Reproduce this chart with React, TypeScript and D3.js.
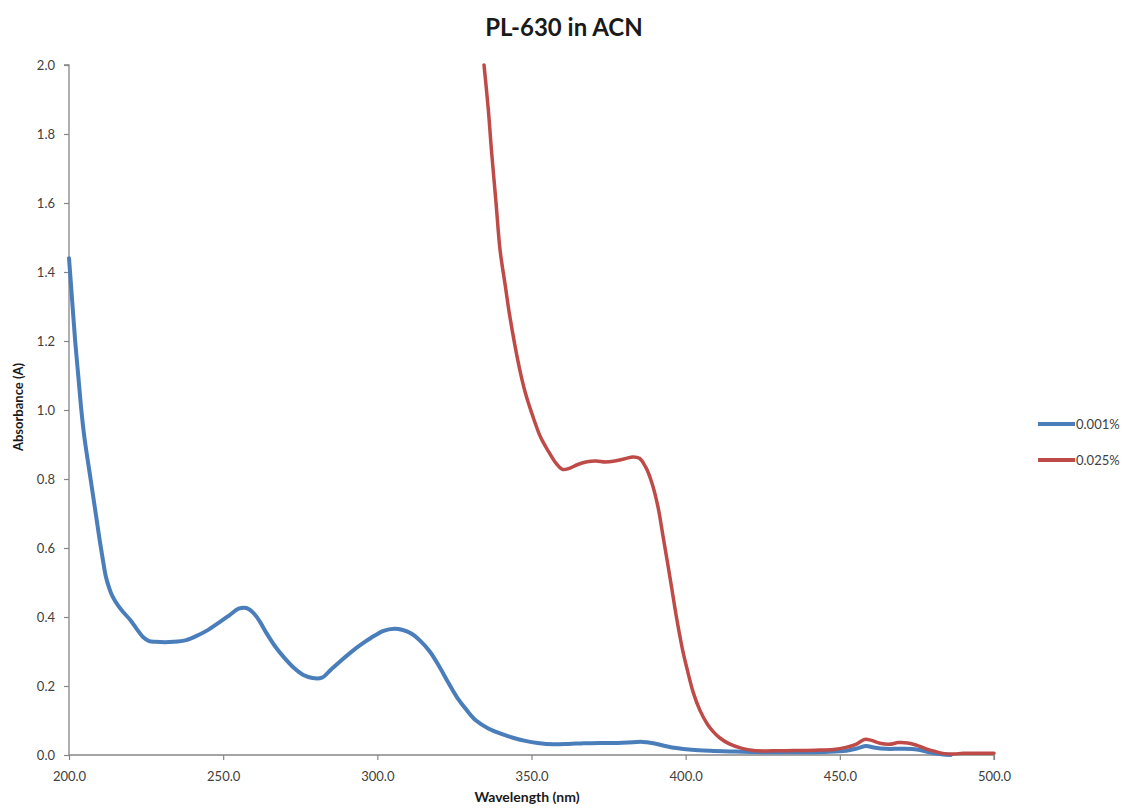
import React, { useEffect, useRef } from "react";
import * as d3 from "d3";

const title = "PL-630 in ACN";
const xLabel = "Wavelength (nm)";
const yLabel = "Absorbance (A)";
const xTicks = [200, 250, 300, 350, 400, 450, 500];
const yTicks = [0, 0.2, 0.4, 0.6, 0.8, 1.0, 1.2, 1.4, 1.6, 1.8, 2.0];
const seriesNames = ["0.001%", "0.025%"];
const seriesColors = ["#4a7ebb", "#be4b48"];

const blueWl = [200, 201, 202, 203, 204, 205, 207, 209, 210, 211, 212, 213, 214, 216, 218, 220, 222, 224, 226, 228, 234, 238, 242, 245, 248, 252, 255, 257.5, 260, 262, 264, 267, 270, 273, 276, 279, 282, 285, 288, 292, 295, 298, 302, 305.5, 308, 311, 314, 317, 320, 323, 326, 329, 332, 336, 340, 344, 348, 352, 357, 362, 367, 372, 378, 383, 386, 389, 393, 397, 402, 408, 415, 425, 435, 445, 452, 456, 458.5, 461, 465, 470, 475, 479, 483, 486];
const blueAbs = [1.44, 1.32, 1.2, 1.1, 1.0, 0.92, 0.8, 0.68, 0.62, 0.565, 0.515, 0.485, 0.462, 0.432, 0.41, 0.39, 0.365, 0.342, 0.33, 0.328, 0.328, 0.333, 0.348, 0.362, 0.38, 0.405, 0.424, 0.426, 0.41, 0.385, 0.354, 0.313, 0.28, 0.252, 0.232, 0.223, 0.224, 0.248, 0.272, 0.302, 0.322, 0.34, 0.36, 0.366, 0.363, 0.352, 0.33, 0.3, 0.258, 0.21, 0.165, 0.13, 0.1, 0.077, 0.062, 0.05, 0.041, 0.035, 0.031, 0.032, 0.034, 0.035, 0.035, 0.037, 0.038, 0.035, 0.027, 0.02, 0.015, 0.012, 0.01, 0.008, 0.008, 0.009, 0.012, 0.02, 0.026, 0.022, 0.018, 0.018, 0.016, 0.008, 0.002, 0.0];

const redWl = [334.6, 336, 337, 338.5, 339.8, 341.5, 343, 346, 348, 350.5, 353, 355.5, 358, 360, 362, 365, 368, 371, 374, 377, 380, 383, 385, 387, 389, 391, 392.7, 395, 397, 399, 400.5, 402.5, 404.6, 407, 409, 411, 414, 418, 422, 428, 435, 442, 448, 452, 455, 458, 460, 463, 466, 469, 472, 475, 478, 481, 484, 487, 490, 495, 500];
const redAbs = [2.0, 1.87, 1.754, 1.6, 1.464, 1.36, 1.27, 1.125, 1.05, 0.98, 0.92, 0.88, 0.845, 0.828, 0.83, 0.842, 0.85, 0.852, 0.849, 0.852, 0.858, 0.864, 0.86, 0.835, 0.79, 0.72, 0.632, 0.51, 0.4, 0.305, 0.248, 0.18, 0.13, 0.09, 0.067, 0.05, 0.033, 0.02, 0.013, 0.012, 0.013, 0.014, 0.016, 0.022, 0.03, 0.045, 0.043, 0.034, 0.031, 0.036, 0.035, 0.028, 0.018, 0.01, 0.004, 0.003, 0.005, 0.005, 0.005];

const W = 1127;
const H = 812;
const FONT = "Lato, 'Open Sans', sans-serif";

export default function App() {
  const ref = useRef<SVGSVGElement>(null);

  useEffect(() => {
    document.body.style.margin = "0";
    const svg = d3.select(ref.current!);
    svg.selectAll("*").remove();

    const m = { left: 69, right: W - 994, top: 65, bottom: H - 755 };
    const x = d3.scaleLinear().domain([200, 500]).range([m.left, W - m.right]);
    const y = d3.scaleLinear().domain([0, 2]).range([H - m.bottom, m.top]);

    svg.append("rect").attr("width", W).attr("height", H).attr("fill", "#fff");

    svg
      .append("text")
      .attr("x", 564)
      .attr("y", 36)
      .attr("text-anchor", "middle")
      .attr("font-family", FONT)
      .attr("font-weight", "bold")
      .attr("font-size", 24)
      .attr("fill", "#1a1a1a")
      .text(title);

    const yAxis = svg
      .append("g")
      .attr("transform", `translate(${m.left},0)`)
      .call(
        d3
          .axisLeft(y)
          .tickValues(yTicks)
          .tickSize(5)
          .tickPadding(9)
          .tickFormat(d3.format(".1f") as any)
      );
    const xAxis = svg
      .append("g")
      .attr("transform", `translate(0,${H - m.bottom})`)
      .call(
        d3
          .axisBottom(x)
          .tickValues(xTicks)
          .tickSize(5)
          .tickPadding(12)
          .tickFormat(d3.format(".1f") as any)
      );
    [yAxis, xAxis].forEach((g) => {
      g.select(".domain").attr("stroke", "#868686").attr("stroke-width", 1.3);
      g.selectAll(".tick line").attr("stroke", "#868686").attr("stroke-width", 1.2);
      g.selectAll(".tick text")
        .attr("font-family", FONT)
        .attr("font-size", 13)
        .attr("fill", "#404040");
    });
    xAxis.select(".domain").attr("d", `M${m.left},0H${W - m.right}V5`);
    yAxis.select(".domain").attr("d", `M-5,${m.top}H0V${H - m.bottom}`);

    svg
      .append("text")
      .attr("x", 527)
      .attr("y", 802)
      .attr("text-anchor", "middle")
      .attr("font-family", FONT)
      .attr("font-weight", "bold")
      .attr("font-size", 14)
      .attr("fill", "#1a1a1a")
      .text(xLabel);

    svg
      .append("text")
      .attr("transform", `translate(23,407) rotate(-90)`)
      .attr("text-anchor", "middle")
      .attr("font-family", FONT)
      .attr("font-weight", "bold")
      .attr("font-size", 13)
      .attr("fill", "#1a1a1a")
      .text(yLabel);

    const line = d3
      .line<[number, number]>()
      .x((d) => x(d[0]))
      .y((d) => y(d[1]))
      .curve(d3.curveCatmullRom.alpha(0.5));

    const series = [
      { wl: blueWl, abs: blueAbs, w: 4 },
      { wl: redWl, abs: redAbs, w: 3.5 },
    ];
    series.forEach((s, i) => {
      const pts = s.wl.map((v, k) => [v, s.abs[k]] as [number, number]);
      svg
        .append("path")
        .attr("d", line(pts))
        .attr("fill", "none")
        .attr("stroke", seriesColors[i])
        .attr("stroke-width", s.w)
        .attr("stroke-linejoin", "round")
        .attr("stroke-linecap", "round");
    });

    const leg = svg.append("g");
    seriesNames.forEach((name, i) => {
      const ly = 424 + i * 36;
      leg
        .append("line")
        .attr("x1", 1038)
        .attr("x2", 1075)
        .attr("y1", ly)
        .attr("y2", ly)
        .attr("stroke", seriesColors[i])
        .attr("stroke-width", 4);
      leg
        .append("text")
        .attr("x", 1076)
        .attr("y", ly + 4.5)
        .attr("font-family", FONT)
        .attr("font-size", 13)
        .attr("fill", "#404040")
        .text(name);
    });
  }, []);

  return (
    <svg
      ref={ref}
      width={W}
      height={H}
      style={{ position: "absolute", left: 0, top: 0, display: "block" }}
    />
  );
}
